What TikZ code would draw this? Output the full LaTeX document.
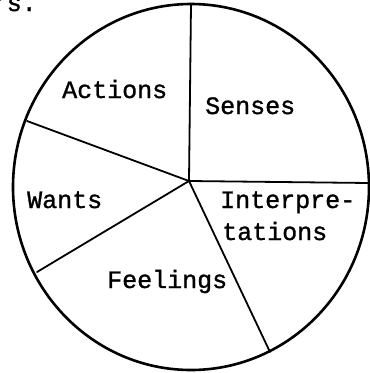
\documentclass[tikz,border=0pt]{standalone}
\usepackage{fontspec}
\newfontfamily\typew[UprightFeatures={FakeBold=1.2}]{Liberation Mono}
\usetikzlibrary{positioning}

\begin{document}
\begin{tikzpicture}[x=1pt,y=-1pt,
  lab/.style={inner sep=0pt,anchor=base west,font=\fontsize{25}{30}\selectfont\typew},
  rim/.style={line width=2.6pt},
  spoke/.style={line width=1.8pt,line cap=round}]
 \useasboundingbox (0,0) rectangle (370,373);
 \node[lab,anchor=base east] (rs) at (37,11) {rs.};
 \draw[rim] (191,187) ellipse [x radius=178, y radius=183];
 \coordinate (O) at (189,181);
 \coordinate (pS) at (191,5);
 \coordinate (pA) at (27,121);
 \coordinate (pW) at (37,272);
 \coordinate (pF) at (270,352);
 \coordinate (pI) at (369,183);
 \foreach \p in {pS,pA,pW,pF,pI}
   \draw[spoke] (O)--(\p);
 \node[lab] (act) at (62,98) {Actions};
 \node[lab] (sen) at (205,114) {Senses};
 \node[lab] (wan) at (27,208) {Wants};
 \node[lab] (int) at (220,208) {Interpre-};
 \node[lab] (tat) at (222,240) {tations};
 \node[lab] (fee) at (107,288) {Feelings};
\end{tikzpicture}
\end{document}
